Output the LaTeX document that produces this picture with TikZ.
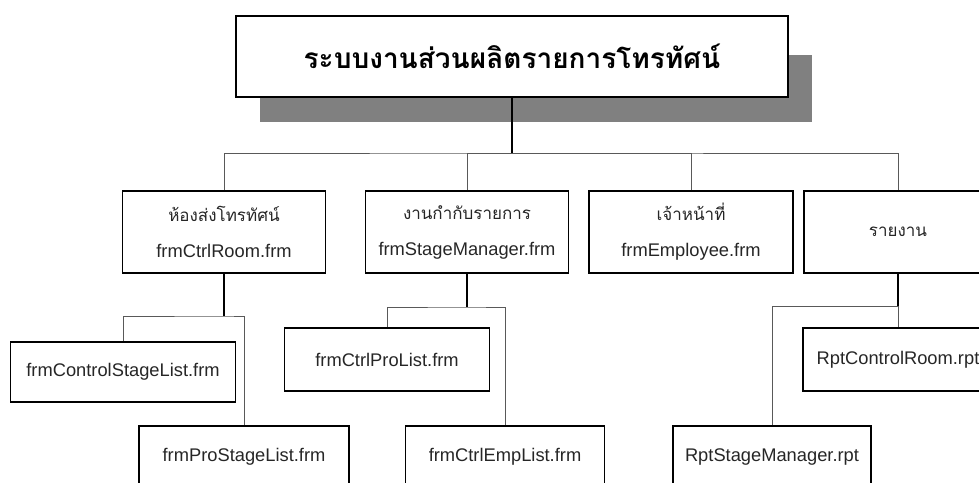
\documentclass[tikz,border=0pt]{standalone}
\usepackage{fontspec}
\setmainfont{Liberation Sans}
\newfontfamily\thaifont[Script=Thai]{Loma}
\usetikzlibrary{positioning}

\begin{document}
\begin{tikzpicture}[x=1pt,y=-1pt,
 box/.style={draw,line width=1.6pt,align=center,inner sep=0pt,minimum height=82pt,
   font=\fontsize{18.3}{36}\selectfont,text=black!85},
 leaf/.style={box,minimum height=62pt},
 drop/.style={line width=1.6pt},
 branch/.style={line width=0.9pt,draw=black!65}]
\useasboundingbox (0,0) rectangle (979,482);
% shadow behind the title
\fill[black!50] (260,55) rectangle (812,122);
\node[draw,line width=1.6pt,fill=white,minimum width=552pt,minimum height=81pt,
  font=\thaifont\bfseries\fontsize{28}{36}\selectfont] (title) at (512,56.5) {ระบบงานส่วนผลิตรายการโทรทัศน์};
\coordinate (jt) at (512,153);
% first level
\node[box,minimum width=203pt] (ctrl) at (224,232) {{\thaifont\fontsize{17}{36}\selectfont ห้องส่งโทรทัศน์}\\frmCtrlRoom.frm};
\node[box,minimum width=203pt] (stage) at (467,232) {{\thaifont\fontsize{17}{36}\selectfont งานกำกับรายการ}\\frmStageManager.frm};
\node[box,minimum width=204pt] (emp) at (691,232) {{\thaifont\fontsize{17}{36}\selectfont เจ้าหน้าที่}\\frmEmployee.frm};
\node[box,minimum width=188pt,font=\thaifont\fontsize{17}{36}\selectfont] (rpt) at (898,232) {รายงาน};
\draw[drop] (title.south) -- (jt);
\draw[branch] (ctrl.north) |- (jt) -| (rpt.north);
\draw[branch] (stage.north) |- (jt);
\draw[branch] (emp.north) |- (jt);
% second level
\node[leaf,minimum width=225pt,minimum height=60pt] (cstage) at (123,372) {frmControlStageList.frm};
\node[leaf,minimum width=210pt] (pstage) at (244,457) {frmProStageList.frm};
\node[leaf,minimum width=205pt,minimum height=63pt] (cpro) at (387,359.5) {frmCtrlProList.frm};
\node[leaf,minimum width=199pt] (cemp) at (505,457) {frmCtrlEmpList.frm};
\node[leaf,minimum width=198pt] (rstage) at (772,457) {RptStageManager.rpt};
\node[leaf,minimum width=190pt,minimum height=63pt] (rctrl) at (898,359.5) {RptControlRoom.rpt};
\coordinate (j1) at (224,316);
\coordinate (j2) at (467,307);
\coordinate (j4) at (898,306);
\draw[drop] (ctrl.south) -- (j1);
\draw[drop] (stage.south) -- (j2);
\draw[drop] (rpt.south) -- (j4);
\draw[branch] (cstage.north) |- (j1) -| (pstage.north);
\draw[branch] (cpro.north) |- (j2) -| (cemp.north);
\draw[branch] (rstage.north) |- (j4) -- (rctrl.north);
\end{tikzpicture}
\end{document}
